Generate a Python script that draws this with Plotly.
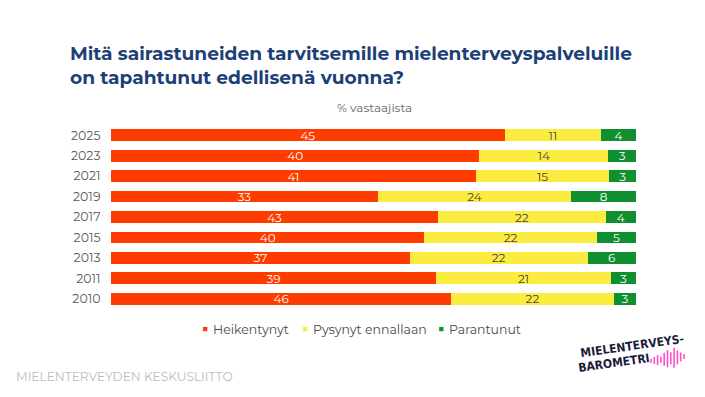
import plotly.graph_objects as go

years = ["2025", "2023", "2021", "2019", "2017", "2015", "2013", "2011", "2010"]
heikentynyt = [45, 40, 41, 33, 43, 40, 37, 39, 46]
pysynyt = [11, 14, 15, 24, 22, 22, 22, 21, 22]
parantunut = [4, 3, 3, 8, 4, 5, 6, 3, 3]

series_names = ["Heikentynyt", "Pysynyt ennallaan", "Parantunut"]
series_values = [heikentynyt, pysynyt, parantunut]
colors = ["#ff3c00", "#fdec40", "#0f8f2f"]
text_colors = ["#ffffff", "#444444", "#ffffff"]

W, H = 705, 397
L, R, T, B = 111, 69, 125, 88

FONT = "Montserrat, 'Open Sans', sans-serif"

fig = go.Figure()
for name, vals, col, tcol in zip(series_names, series_values, colors, text_colors):
    fig.add_trace(go.Bar(
        y=years, x=vals, name=name, orientation="h",
        marker=dict(color=col, line=dict(width=0)),
        text=[str(v) for v in vals], textposition="inside",
        insidetextanchor="middle", textangle=0,
        textfont=dict(color=tcol, size=12, family=FONT),
        showlegend=False, hoverinfo="x+y+name",
    ))


def px2paper(px, py):
    pw = W - L - R
    ph = H - T - B
    return (px - L) / pw, (H - B - py) / ph


def ann(text, px, py, size, color, xanchor="left", family=FONT, angle=0, align="left"):
    ax, ay = px2paper(px, py)
    return dict(text=text, x=ax, y=ay, xref="paper", yref="paper", align=align,
                xanchor=xanchor, yanchor="middle", showarrow=False, textangle=angle,
                font=dict(size=size, color=color, family=family))


annotations = []
# title
title_lines = ["Mitä sairastuneiden tarvitsemille mielenterveyspalveluille",
               "on tapahtunut edellisenä vuonna?"]
annotations.append(ann("<br>".join("<b>%s</b>" % t for t in title_lines), 68, 65, 18.6, "#1d3f78"))
# subtitle
annotations.append(ann("% vastaajista", 374, 108, 12, "#666666", xanchor="center"))
# legend row
legend_x = [(201, 211), (301, 311), (437, 447)]
for (sqx, tx), c, n in zip(legend_x, colors, series_names):
    annotations.append(ann("■", sqx - 1, 328, 11, c))
    annotations.append(ann(n, tx, 329, 12.5, "#4a4a4a"))
# footer
annotations.append(ann("MIELENTERVEYDEN KESKUSLIITTO", 14, 376, 12.2, "#bdbdbd"))
# logo text
logo_font = "'Liberation Sans Narrow', 'DejaVu Sans Condensed', 'Roboto Condensed', sans-serif"
annotations.append(ann("<b>MIELENTERVEYS-</b>", 632, 346, 12, "#1c1c3a",
                       xanchor="center", family=logo_font, angle=-8))
annotations.append(ann("<b>BAROMETRI</b>", 614, 363, 12, "#1c1c3a",
                       xanchor="center", family=logo_font, angle=-8))

# logo pink bars (decoration)
shapes = []
bar_heights = [4, 7, 10, 6, 13, 17, 12, 20, 14, 9, 5]
for i, h in enumerate(bar_heights):
    cx = 651 + i * 3.3
    cy = 361 - i * 0.45
    x0, y0 = px2paper(cx, cy + h / 2)
    x1, y1 = px2paper(cx, cy - h / 2)
    shapes.append(dict(type="line", xref="paper", yref="paper", x0=x0, y0=y0, x1=x1, y1=y1,
                       line=dict(color="#ff4fc8", width=1.6)))

fig.update_layout(
    width=W, height=H,
    margin=dict(l=L, r=R, t=T, b=B, pad=0),
    barmode="stack", barnorm="percent", bargap=0.42,
    paper_bgcolor="white", plot_bgcolor="white",
    font=dict(family=FONT, color="#555555"),
    xaxis=dict(range=[0, 100], visible=False, fixedrange=True),
    yaxis=dict(categoryorder="array", categoryarray=years[::-1], autorange=True,
               showgrid=False, zeroline=False, showline=False,
               ticks="outside", ticklen=7, tickcolor="rgba(0,0,0,0)",
               tickfont=dict(size=12.5, color="#5a5a5a", family=FONT), fixedrange=True),
    annotations=annotations,
    shapes=shapes,
    showlegend=False,
    uniformtext=dict(minsize=10, mode="show"),
)

fig.write_html("out.html", config={"displayModeBar": False},
               post_script="document.body.style.margin='0';document.body.style.padding='0';")
